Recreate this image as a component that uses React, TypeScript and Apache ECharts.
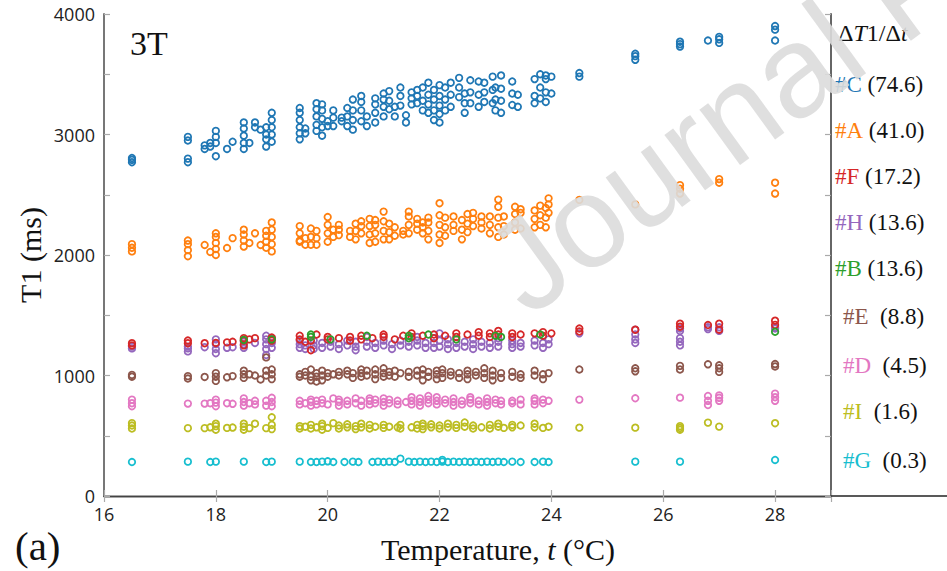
import React, { useEffect, useRef } from "react";
import * as echarts from "echarts";

// ---- data: [temperature (°C), [T1 values (ms)]] ----
const seriesNames = ["#C", "#A", "#H", "#F", "#B", "#E", "#D", "#I", "#G"];
const legendOrder = ["#C", "#A", "#F", "#H", "#B", "#E", "#D", "#I", "#G"];

const C_cols: [number, number[]][] = [
  [16.5, [2770, 2790, 2805]], [17.5, [2770, 2800, 2950, 2980]], [17.8, [2880, 2910]], [17.9, [2900, 2930]],
  [18.0, [2820, 2930, 2980, 3030]], [18.2, [2880]], [18.3, [2940]], [18.5, [2880, 2930, 2990, 3050, 3100]],
  [18.6, [2930]], [18.7, [3060, 3100]], [18.8, [3040]], [18.9, [2900, 2960, 3000, 3060]],
  [19.0, [2940, 3000, 3060, 3120, 3180]], [19.5, [2960, 3010, 3060, 3120, 3180, 3220]], [19.6, [3010, 3050]],
  [19.8, [3030, 3080, 3150, 3210, 3260]], [19.9, [2990, 3060, 3130, 3200, 3250]], [20.0, [3070, 3110]],
  [20.1, [3070, 3140, 3200]], [20.25, [3110, 3140]], [20.35, [3070, 3150, 3220]], [20.45, [3040, 3120, 3200, 3290]],
  [20.6, [3110, 3200, 3270, 3320]], [20.7, [3070, 3150]], [20.85, [3100, 3180, 3250, 3300]],
  [21.0, [3150, 3230, 3290, 3340]], [21.1, [3210, 3280, 3360]], [21.2, [3150, 3230]], [21.3, [3240, 3320, 3390]],
  [21.4, [3100, 3160]], [21.5, [3250, 3300, 3350]], [21.6, [3260, 3320, 3370]], [21.7, [3200, 3280, 3390]],
  [21.8, [3180, 3250, 3330, 3430]], [21.9, [3120, 3200, 3290, 3370]], [22.0, [3100, 3170, 3240, 3320, 3410]],
  [22.1, [3200, 3290, 3390]], [22.2, [3230, 3330, 3430]], [22.35, [3310, 3390, 3470]], [22.45, [3180, 3260, 3340]],
  [22.55, [3260, 3350, 3450]], [22.7, [3230, 3330, 3440]], [22.8, [3270, 3350, 3430]],
  [22.95, [3260, 3370, 3480]], [23.0, [3200, 3290, 3390]], [23.1, [3180, 3280, 3380, 3490]],
  [23.3, [3245, 3340, 3440]], [23.4, [3230, 3330]], [23.7, [3260, 3320, 3460]], [23.8, [3300, 3390, 3500]],
  [23.9, [3270, 3350, 3460, 3490]], [24.0, [3340, 3480]], [24.5, [3480, 3510]], [25.5, [3620, 3650, 3670]],
  [26.3, [3730, 3750, 3770]], [26.8, [3780]], [27.0, [3760, 3790, 3810]], [28.0, [3780, 3870, 3900]],
];

const A_cols: [number, number[]][] = [
  [16.5, [2030, 2060, 2090]], [17.5, [1990, 2040, 2090, 2120]], [17.8, [2083]], [17.9, [2025]],
  [18.0, [2000, 2050, 2100, 2150, 2180]], [18.2, [2058]], [18.3, [2140]], [18.5, [2070, 2120, 2170, 2210]],
  [18.6, [2100]], [18.7, [2180]], [18.8, [2083]], [18.9, [2060, 2110, 2160, 2200]],
  [19.0, [2030, 2090, 2150, 2210, 2270]], [19.5, [2110, 2120, 2180, 2240]], [19.6, [2085, 2140]],
  [19.7, [2085, 2150, 2220]], [19.8, [2085, 2140, 2200]], [20.0, [2110, 2180, 2250, 2315]], [20.1, [2150, 2210]],
  [20.2, [2165, 2210, 2250]], [20.4, [2150, 2200]], [20.5, [2130, 2200, 2260]], [20.6, [2180, 2240, 2280]],
  [20.75, [2100, 2170, 2240, 2300]], [20.85, [2110, 2180, 2250, 2290]], [21.0, [2130, 2200, 2280, 2360]],
  [21.1, [2130, 2190, 2260]], [21.2, [2160, 2230]], [21.35, [2170, 2200]], [21.45, [2180, 2250, 2320, 2360]],
  [21.6, [2210, 2260, 2300]], [21.7, [2180, 2230, 2270]], [21.8, [2130, 2200, 2270, 2310]],
  [22.0, [2100, 2170, 2250, 2330, 2430]], [22.1, [2160, 2230, 2310]], [22.25, [2200, 2250, 2320]],
  [22.4, [2130, 2210, 2290]], [22.5, [2190, 2260, 2340]], [22.6, [2240, 2300, 2350]], [22.75, [2220, 2270, 2320]],
  [22.9, [2180, 2250, 2320]], [23.05, [2150, 2230, 2310, 2400, 2460]], [23.15, [2170, 2240, 2320]],
  [23.35, [2210, 2270, 2340, 2400]], [23.45, [2220, 2350, 2380]], [23.7, [2230, 2300, 2370]],
  [23.8, [2250, 2330, 2410]], [23.9, [2230, 2310, 2390]], [23.95, [2350, 2420, 2470]], [24.5, [2457]],
  [25.5, [2420]], [26.3, [2510, 2550, 2580]], [27.0, [2600, 2630]], [28.0, [2510, 2600]],
];

const H_cols: [number, number[]][] = [
  [16.5, [1225, 1240]], [17.5, [1200, 1225, 1240]], [17.8, [1235]], [18.0, [1185, 1220, 1260, 1300]],
  [18.2, [1230]], [18.3, [1235]], [18.5, [1230, 1260, 1280]], [18.7, [1270]],
  [18.9, [1170, 1220, 1260, 1300, 1330]], [19.0, [1230, 1270, 1310]], [19.5, [1230, 1260, 1290]],
  [19.6, [1220, 1250]], [19.75, [1220, 1250, 1290]], [19.9, [1230, 1270]], [20.05, [1240, 1280]],
  [20.2, [1220, 1260]], [20.35, [1250, 1290]], [20.5, [1210, 1240, 1280]], [20.7, [1240, 1280, 1320]],
  [20.85, [1230, 1270]], [21.0, [1250, 1290]], [21.15, [1220, 1260]], [21.3, [1250, 1290]],
  [21.45, [1240, 1280]], [21.6, [1250, 1290, 1320]], [21.75, [1230, 1270]], [21.9, [1230, 1270, 1310]],
  [22.0, [1240, 1290, 1350]], [22.15, [1220, 1260, 1300]], [22.3, [1230, 1270]], [22.45, [1240, 1280]],
  [22.6, [1220, 1260, 1300]], [22.75, [1240, 1280]], [22.9, [1230, 1270]], [23.05, [1240, 1280, 1310]],
  [23.3, [1230, 1260, 1290]], [23.45, [1240, 1270]], [23.7, [1250, 1290]], [23.85, [1230, 1270]],
  [23.95, [1260, 1300]], [24.5, [1350]], [25.5, [1270, 1300, 1340, 1380]], [26.3, [1250, 1280, 1310, 1370, 1390]],
  [26.8, [1385, 1400]], [27.0, [1370, 1400]], [28.0, [1390, 1400]],
];

const F_cols: [number, number[]][] = [
  [16.5, [1250, 1268]], [17.5, [1268, 1290]], [17.8, [1268]], [18.0, [1270]], [18.2, [1275]], [18.3, [1280]],
  [18.5, [1250, 1290, 1310]], [18.6, [1300]], [18.7, [1310]], [19.0, [1290, 1315]], [19.5, [1300, 1330]],
  [19.6, [1280]], [19.7, [1210, 1290]], [19.8, [1340]], [20.0, [1300, 1320]], [20.2, [1310]],
  [20.4, [1290, 1320]], [20.6, [1300, 1330]], [20.8, [1310]], [21.0, [1320, 1340]], [21.2, [1300]],
  [21.35, [1330]], [21.5, [1320, 1350]], [21.7, [1330]], [21.9, [1310, 1340]], [22.1, [1330]],
  [22.3, [1320, 1350]], [22.5, [1340]], [22.7, [1330, 1360]], [22.9, [1320, 1350]], [23.05, [1340, 1370]],
  [23.3, [1320, 1350]], [23.45, [1340]], [23.7, [1350]], [23.85, [1330, 1360]], [24.0, [1350]],
  [24.5, [1365, 1390]], [25.5, [1380]], [26.3, [1405, 1430]], [26.8, [1419]], [27.0, [1380, 1430]],
  [28.0, [1420, 1455]],
];

const B_cols: [number, number[]][] = [
  [18.5, [1295]], [19.0, [1300]], [19.7, [1320, 1340]], [20.05, [1300]], [20.7, [1330]], [21.45, [1310, 1330]],
  [21.8, [1340]], [22.3, [1300]], [23.0, [1330]], [23.1, [1320]], [23.8, [1340]], [28.0, [1363]],
];

const E_cols: [number, number[]][] = [
  [16.5, [990, 1005]], [17.5, [975, 995]], [17.8, [988]], [18.0, [955, 990, 1020]], [18.2, [985]], [18.3, [995]],
  [18.5, [980, 1010, 1040]], [18.6, [1010]], [18.7, [1000]], [18.8, [967]], [18.9, [1000, 1040, 1150]],
  [19.0, [970, 1010, 1050]], [19.5, [990, 1010]], [19.6, [1000, 1030]], [19.7, [960, 990, 1050]],
  [19.8, [950, 990, 1020]], [19.9, [960, 1000, 1040]], [20.0, [990, 1020]], [20.1, [1010]], [20.2, [1000, 1030]],
  [20.35, [1010, 1040]], [20.45, [980, 1020]], [20.6, [990, 1020, 1050]], [20.7, [1000, 1040]],
  [20.85, [970, 1010, 1050]], [21.0, [990, 1020, 1060]], [21.1, [1000, 1030]], [21.2, [990, 1040]], [21.3, [1020]],
  [21.45, [990, 1030]], [21.6, [1000, 1040]], [21.7, [960, 1010, 1050]], [21.8, [990, 1030]],
  [21.95, [970, 1010, 1040]], [22.05, [980, 1020, 1050]], [22.2, [1000, 1030]], [22.35, [980, 1020]],
  [22.5, [970, 1010, 1040]], [22.65, [1000, 1030]], [22.8, [980, 1020, 1060]], [22.95, [960, 1000, 1040]],
  [23.1, [980, 1020]], [23.3, [990, 1030]], [23.45, [980, 1010]], [23.7, [1000, 1040]], [23.85, [970, 1010]],
  [23.95, [1020]], [24.5, [1050]], [25.5, [1035, 1060]], [26.3, [1050, 1080]], [26.8, [1093]],
  [27.0, [1030, 1060, 1085]], [28.0, [1075, 1095]],
];

const D_cols: [number, number[]][] = [
  [16.5, [745, 770, 800]], [17.5, [767]], [17.8, [767]], [17.9, [770]], [18.0, [745, 775, 800]], [18.2, [770]],
  [18.3, [765]], [18.5, [750, 780, 810]], [18.6, [770]], [18.7, [760, 790]], [18.9, [750, 790]],
  [19.0, [745, 780, 815]], [19.5, [760, 790]], [19.6, [770]], [19.7, [750, 780, 800]], [19.8, [760, 790]],
  [19.9, [770, 800]], [20.0, [760]], [20.1, [810]], [20.2, [750, 780, 800]], [20.35, [760, 790]],
  [20.5, [770, 810]], [20.6, [750, 790]], [20.75, [760, 790, 810]], [20.85, [770, 800]], [21.0, [750, 780, 810]],
  [21.1, [770, 800]], [21.25, [760, 790]], [21.4, [780]], [21.5, [760, 790, 820]], [21.65, [750, 780, 810]],
  [21.8, [770, 800, 830]], [21.95, [760, 790, 820]], [22.1, [770, 800]], [22.25, [750, 780, 810]],
  [22.4, [760, 790]], [22.55, [770, 800, 820]], [22.7, [760, 790]], [22.85, [750, 780, 810]], [23.0, [770, 800]],
  [23.1, [760, 790]], [23.3, [770, 790]], [23.45, [760, 800]], [23.7, [760, 790, 810]], [23.85, [770, 800]],
  [23.95, [790]], [24.5, [800]], [25.5, [811]], [26.3, [816]], [26.8, [755, 790, 830]], [27.0, [790, 815, 835]],
  [28.0, [790, 820, 850]],
];

const I_cols: [number, number[]][] = [
  [16.5, [560, 585, 605]], [17.5, [563]], [17.8, [563]], [17.9, [570]], [18.0, [550, 580, 600]], [18.2, [565]],
  [18.3, [568]], [18.5, [550, 575, 600]], [18.6, [563]], [18.7, [600]], [18.9, [563]], [19.0, [555, 590, 653]],
  [19.5, [560, 580]], [19.6, [575]], [19.7, [560, 590]], [19.8, [570]], [19.9, [550, 580, 600]], [20.0, [565]],
  [20.1, [605]], [20.2, [560, 585]], [20.35, [570, 595]], [20.5, [555, 580]], [20.6, [570, 600]],
  [20.75, [560, 590]], [20.85, [575]], [21.0, [565, 590]], [21.1, [575]], [21.25, [570]], [21.3, [560, 590]],
  [21.5, [570]], [21.6, [560, 590]], [21.7, [555, 580, 600]], [21.85, [570, 595]], [22.0, [560, 585]],
  [22.15, [570, 600]], [22.3, [565, 590]], [22.45, [575, 610]], [22.6, [560, 585]], [22.75, [570]],
  [22.9, [560, 590]], [23.05, [575, 600]], [23.15, [565]], [23.3, [570, 590]], [23.45, [585]],
  [23.7, [570, 600]], [23.85, [565]], [23.95, [575]], [24.5, [567]], [25.5, [567]], [26.3, [550, 565, 580]],
  [26.8, [609]], [27.0, [576]], [28.0, [604]],
];

const G_cols: [number, number[]][] = [
  [16.5, [282]], [17.5, [285]], [17.9, [282]], [18.0, [285]], [18.5, [285]], [18.9, [282]], [19.0, [285]],
  [19.5, [285]], [19.7, [282]], [19.8, [282]], [19.9, [285]], [20.0, [288]], [20.1, [282]], [20.3, [282]],
  [20.45, [285]], [20.55, [282]], [20.8, [282]], [20.9, [285]], [21.0, [282]], [21.1, [285]], [21.2, [282]],
  [21.3, [310]], [21.45, [285]], [21.55, [282]], [21.65, [285]], [21.75, [282]], [21.85, [285]], [21.95, [282]],
  [22.05, [285, 300]], [22.15, [282]], [22.25, [285]], [22.35, [282]], [22.45, [285]], [22.55, [282]],
  [22.65, [285]], [22.75, [282]], [22.85, [285]], [22.95, [282]], [23.05, [285]], [23.15, [282]],
  [23.3, [285]], [23.45, [282]], [23.7, [282]], [23.85, [285]], [23.95, [282]], [25.5, [285]], [26.3, [285]],
  [28.0, [299]],
];

const xTicks = [16, 18, 20, 22, 24, 26, 28];
const yTickLabels = [0, 1000, 2000, 3000, 4000];

const colorMap: Record<string, string> = {
  "#C": "#1f77b4", "#A": "#ff7f0e", "#F": "#d62728", "#H": "#9467bd", "#B": "#2ca02c",
  "#E": "#8c564b", "#D": "#e377c2", "#I": "#bcbd22", "#G": "#17becf",
};
const colsMap: Record<string, [number, number[]][]> = {
  "#C": C_cols, "#A": A_cols, "#F": F_cols, "#H": H_cols, "#B": B_cols,
  "#E": E_cols, "#D": D_cols, "#I": I_cols, "#G": G_cols,
};
const slopeMap: Record<string, string> = {
  "#C": "74.6", "#A": "41.0", "#F": "17.2", "#H": "13.6", "#B": "13.6",
  "#E": "8.8", "#D": "4.5", "#I": "1.6", "#G": "0.3",
};

const SERIF = "'Liberation Serif', 'Times New Roman', serif";
const SANS = "'Open Sans', 'Liberation Sans', sans-serif";

function flatten(cols: [number, number[]][]) {
  const out: number[][] = [];
  cols.forEach(([t, vals]) => vals.forEach((v) => out.push([t, v])));
  return out;
}

export default function App() {
  const ref = useRef<HTMLDivElement>(null);
  useEffect(() => {
    if (!ref.current) return;
    const chart = echarts.init(ref.current, undefined, { renderer: "svg" });
    const legendRows = [87, 133, 179, 225, 271, 319, 368, 414, 463];
    const legendGraphics = legendOrder.map((name, i) => {
      const wide = slopeMap[name].length >= 4;
      return {
        type: "text",
        left: wide ? 835 : 843,
        top: legendRows[i] - 14,
        z: 50,
        style: {
          text: `{c|${name}}${wide ? " " : "  "}(${slopeMap[name]})`,
          fill: "#111",
          font: `23px ${SERIF}`,
          rich: { c: { fill: colorMap[name], font: `23px ${SERIF}` } },
        },
      };
    });
    const option: any = {
      animation: false,
      backgroundColor: "#ffffff",
      grid: { left: 104, right: 116, top: 14, bottom: 75, containLabel: false },
      xAxis: [
        {
          type: "value", min: 16, max: 29, interval: 2, position: "bottom",
          axisLine: { show: true, lineStyle: { color: "#222", width: 1.3 } },
          axisTick: { show: true, inside: true, length: 6, lineStyle: { color: "#aaa", width: 1.2 } },
          axisLabel: {
            color: "#222", fontSize: 18, fontFamily: SANS, margin: 9,
            formatter: (v: number) => (xTicks.includes(v) ? String(v) : ""),
          },
          splitLine: { show: false },
        },
        {
          type: "value", min: 16, max: 29, interval: 2, position: "top",
          axisLine: { show: true, lineStyle: { color: "#444", width: 1.3 } },
          axisTick: { show: true, inside: true, length: 6, lineStyle: { color: "#aaa", width: 1.2 } },
          axisLabel: { show: false },
          splitLine: { show: false },
        },
      ],
      yAxis: [
        {
          type: "value", min: 0, max: 4000, interval: 500, position: "left",
          axisLine: { show: true, lineStyle: { color: "#777", width: 2 } },
          axisTick: { show: true, inside: true, length: 6, lineStyle: { color: "#aaa", width: 1.2 } },
          axisLabel: {
            color: "#222", fontSize: 18, fontFamily: SANS, margin: 9,
            formatter: (v: number) => (yTickLabels.includes(v) ? String(v) : ""),
          },
          splitLine: { show: false },
        },
        {
          type: "value", min: 0, max: 4000, interval: 500, position: "right",
          axisLine: { show: true, lineStyle: { color: "#666", width: 2 } },
          axisTick: { show: true, inside: true, length: 6, lineStyle: { color: "#aaa", width: 1.2 } },
          axisLabel: { show: false },
          splitLine: { show: false },
        },
      ],
      series: seriesNames.map((name) => ({
        name,
        type: "scatter",
        xAxisIndex: 0,
        yAxisIndex: 0,
        symbol: "circle",
        symbolSize: 6.5,
        data: flatten(colsMap[name]),
        itemStyle: { color: "rgba(255,255,255,0)", borderColor: colorMap[name], borderWidth: 1.8, opacity: 1 },
      })),
      graphic: [
        { type: "text", left: 130, top: 26, z: 50, style: { text: "3T", font: `34px ${SERIF}`, fill: "#111" } },
        {
          type: "text", x: 30, y: 255, rotation: Math.PI / 2, z: 50,
          style: { text: "T1 (ms)", font: `30px ${SERIF}`, fill: "#111", align: "center", verticalAlign: "middle" },
        },
        {
          type: "text", x: 498, y: 549, z: 50,
          style: {
            text: "Temperature, {i|t} (°C)", font: `30px ${SERIF}`, fill: "#111",
            align: "center", verticalAlign: "middle",
            rich: { i: { font: `italic 30px ${SERIF}`, fill: "#111" } },
          },
        },
        {
          type: "text", x: 15, y: 546, z: 50,
          style: { text: "(a)", font: `41px ${SERIF}`, fill: "#111", align: "left", verticalAlign: "middle" },
        },
        {
          type: "text", x: 838, y: 33, z: 50,
          style: {
            text: "Δ{i|T}1/Δ{i|t}", font: `24px ${SERIF}`, fill: "#111", align: "left", verticalAlign: "middle",
            rich: { i: { font: `italic 24px ${SERIF}`, fill: "#111" } },
          },
        },
        ...legendGraphics,
        {
          type: "line", z: 40,
          shape: { x1: 831, y1: 496, x2: 947, y2: 496 },
          style: { stroke: "#222", lineWidth: 1.3 },
        },
        {
          type: "text", x: 540, y: 335, rotation: (36 * Math.PI) / 180, z: 100, silent: true,
          style: {
            text: "Journal Pre-proof", font: `130px 'Liberation Sans', sans-serif`, fill: "#dcdcdc",
            align: "left", verticalAlign: "bottom", opacity: 0.9,
          },
        },
      ],
    };
    chart.setOption(option);
    return () => chart.dispose();
  }, []);
  return (
    <div
      ref={ref}
      style={{ position: "fixed", left: 0, top: 0, width: 947, height: 571, background: "#fff" }}
    />
  );
}
